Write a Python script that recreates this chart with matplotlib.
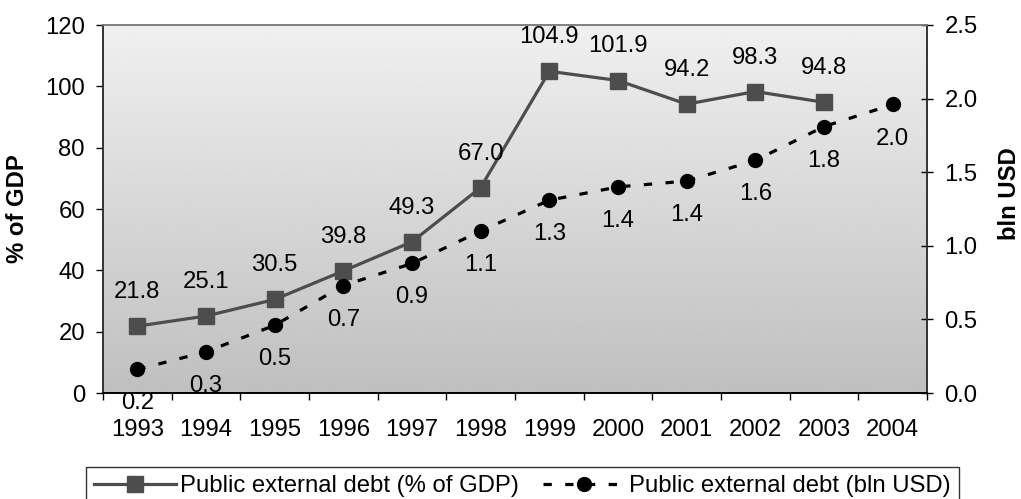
import numpy as np
import matplotlib
matplotlib.use("Agg")
import matplotlib.pyplot as plt
from matplotlib.lines import Line2D

plt.rcParams['font.family'] = ['Liberation Sans', 'DejaVu Sans']

years = ['1993', '1994', '1995', '1996', '1997', '1998', '1999', '2000',
         '2001', '2002', '2003', '2004']
debt_pct_gdp = [21.8, 25.1, 30.5, 39.8, 49.3, 67.0, 104.9, 101.9, 94.2, 98.3, 94.8]
debt_bln_usd = [0.16, 0.28, 0.46, 0.73, 0.88, 1.10, 1.31, 1.40, 1.44, 1.58, 1.81, 1.96]
left_ticks = [0, 20, 40, 60, 80, 100, 120]
right_ticks = [0.0, 0.5, 1.0, 1.5, 2.0, 2.5]

FS = 17.2
fig = plt.figure(figsize=(10.21, 4.99), dpi=100)
ax = fig.add_axes([103/1021, 1-393/499, (927-103)/1021, (393-25)/499])

# gradient background
grad = np.linspace(0.94, 0.75, 256).reshape(-1, 1)
ax.imshow(grad, cmap='gray', vmin=0, vmax=1, aspect='auto',
          extent=[-0.5, len(years)-0.5, 0, 120], origin='upper', zorder=0,
          interpolation='bicubic')

x1 = np.arange(len(debt_pct_gdp))
x2 = np.arange(len(debt_bln_usd))
s1_color = '#4d4d4d'
ax.plot(x1, debt_pct_gdp, color=s1_color, lw=2.3, marker='s', ms=11,
        mfc=s1_color, mec=s1_color, zorder=3, clip_on=False)
ax.set_xlim(-0.5, len(years)-0.5)
ax.set_ylim(0, 120)
ax.set_yticks(left_ticks)
ax.set_yticklabels([str(v) for v in left_ticks], fontsize=FS)
ax.set_xticks(np.arange(len(years)+1) - 0.5)
ax.set_xticklabels([])
ax.set_xticks(np.arange(len(years)), minor=True)
ax.set_xticklabels(years, minor=True, fontsize=FS)
ax.tick_params(axis='x', which='minor', length=0, pad=19)
ax.tick_params(axis='x', which='major', length=5, width=1, direction='out')
ax.tick_params(axis='y', length=5, width=1, direction='out', pad=8)
for xv, yv in zip(x1, debt_pct_gdp):
    ax.annotate(f'{yv:.1f}', (xv, yv), xytext=(0, 24.5), textcoords='offset points',
                ha='center', va='center', fontsize=FS, color='black', zorder=5)

ax2 = ax.twinx()
ax2.plot(x2, debt_bln_usd, color='black', lw=2.3, linestyle=(0, (2.6, 4.2)),
         marker='o', ms=10, mfc='black', mec='black', zorder=3, clip_on=False)
ax2.set_ylim(0, 2.5)
ax2.set_yticks(right_ticks)
ax2.set_yticklabels([f'{v:.1f}' for v in right_ticks], fontsize=FS)
ax2.tick_params(axis='y', length=9, width=1, direction='inout', pad=8)
for xv, yv in zip(x2, debt_bln_usd):
    ax2.annotate(f'{yv:.1f}', (xv, yv), xytext=(0, -24.5), textcoords='offset points',
                 ha='center', va='center', fontsize=FS, color='black', zorder=5)

for a in (ax, ax2):
    a.spines['top'].set_color('#808080')
    a.spines['left'].set_color('#333333')
    a.spines['right'].set_color('#333333')
    a.spines['bottom'].set_color('black')
    for s in a.spines.values():
        s.set_linewidth(1.2)

fig.text(18/1021, 1-209/499, '% of GDP', rotation=90, ha='center', va='center',
         fontsize=FS, fontweight='bold')
fig.text(1009/1021, 1-194/499, 'bln USD', rotation=90, ha='center', va='center',
         fontsize=FS, fontweight='bold')

h1 = Line2D([], [], color=s1_color, lw=2.3, marker='s', ms=11, mfc=s1_color, mec=s1_color)
h2 = Line2D([], [], color='black', lw=2.3, linestyle=(0, (2.6, 4.2)), marker='o', ms=10,
            mfc='black', mec='black')
leg = fig.legend([h1, h2], ['Public external debt (% of GDP)', 'Public external debt (bln USD)'],
                 loc='upper center', bbox_to_anchor=(522.5/1021, 1-467/499), ncol=2,
                 fontsize=FS, frameon=True, fancybox=False, edgecolor='black',
                 handlelength=3.4, handletextpad=0.2, columnspacing=1.0,
                 borderpad=0.35, borderaxespad=0)
leg.get_frame().set_linewidth(1.0)

fig.savefig('out.png', dpi=100)
